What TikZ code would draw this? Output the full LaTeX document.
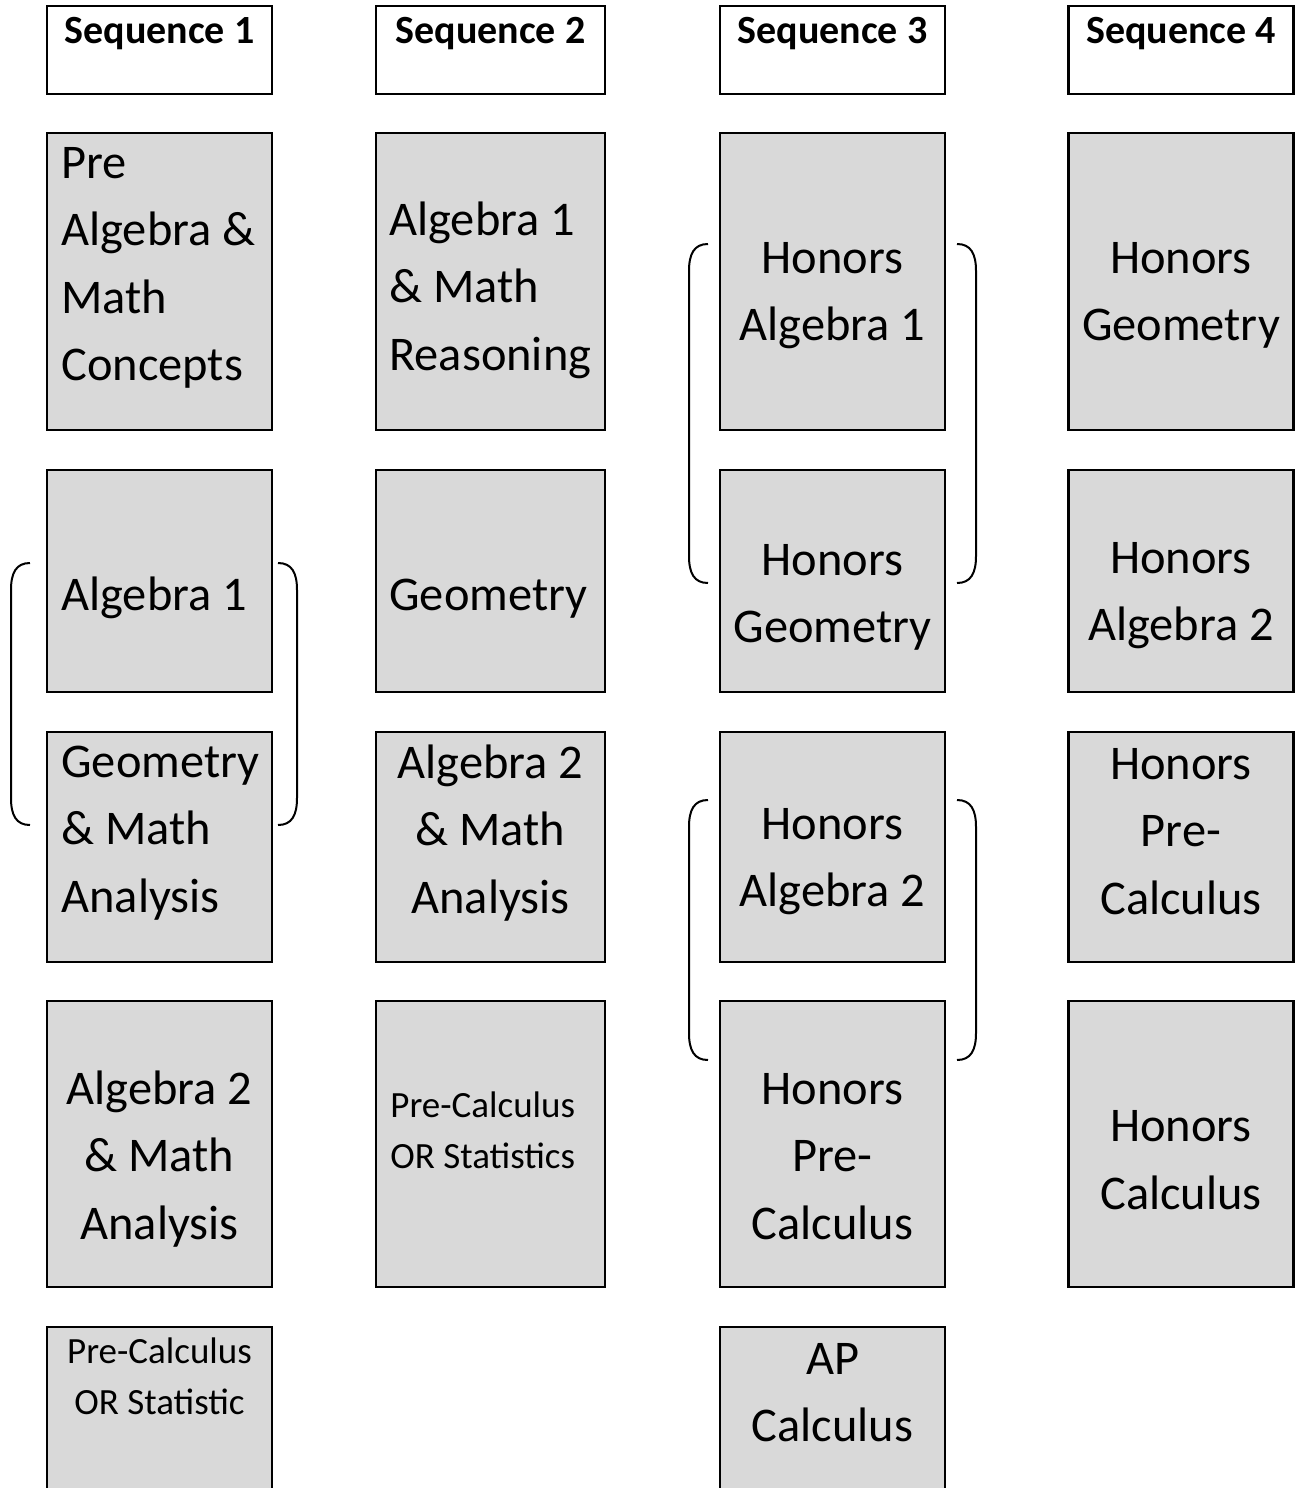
\documentclass[tikz,border=0pt]{standalone}
\usepackage{fontspec}
\setmainfont{Carlito}
\definecolor{cellgray}{HTML}{D9D9D9}
\newcommand{\coursefont}{\fontsize{24.2pt}{33.75pt}\selectfont}
\newcommand{\smallcoursefont}{\fontsize{18.5pt}{25.5pt}\selectfont}
\newcommand{\headfont}{\fontsize{20pt}{24pt}\selectfont\bfseries}

\begin{document}
\begin{tikzpicture}[x=0.5pt, y=-0.5pt,
    cell/.style={draw, line width=1.25pt, fill=cellgray, inner sep=0pt, minimum width=112.5pt},
    head/.style={cell, fill=white, minimum height=44pt},
    seqlabel/.style={font=\headfont, anchor=base, inner sep=0pt},
    % text nodes sit on the baseline of their last line
    course/.style={font=\coursefont, inner sep=0pt, anchor=base, align=center},
    courseleft/.style={course, anchor=base west, align=left},
    smallcourse/.style={course, font=\smallcoursefont},
    bracket/.style={draw, line width=1pt}]
    \useasboundingbox (0,0) rectangle (1295,1488);
    \clip (0,0) rectangle (1295,1488);

    % Header row
    \node[head] (h1) at (159.5,50) {}; \node[head, minimum width=114.5pt] (h2) at (490.5,50) {};
    \node[head] (h3) at (832.5,50) {}; \node[head] (h4) at (1181,50) {};
    \node[seqlabel] (q1) at (159.5,43) {Sequence 1}; \node[seqlabel] (q2) at (490.5,43) {Sequence 2};
    \node[seqlabel] (q3) at (832.5,43) {Sequence 3}; \node[seqlabel] (q4) at (1181,43) {Sequence 4};

    % Sequence 1
    \node[cell, minimum height=148.5pt] (b11) at (159.5,281.5) {};
    \node[cell, minimum height=111pt] (b12) at (159.5,581) {};
    \node[cell, minimum height=115pt] (b13) at (159.5,847) {};
    \node[cell, minimum height=143pt] (b14) at (159.5,1144) {};
    \node[cell, minimum height=91.5pt] (b15) at (159.5,1418.5) {};
    \node[courseleft] (t11) at (61,380.5) {Pre\\Algebra \&\\Math\\Concepts};
    \node[courseleft] (t12) at (61,610) {Algebra 1};
    \node[courseleft] (t13) at (61,912) {Geometry\\\& Math\\Analysis};
    \node[course] (t14) at (159.5,1239) {Algebra 2\\\& Math\\Analysis};
    \node[smallcourse] (t15) at (159.5,1414) {Pre-Calculus\\OR Statistic};

    % Sequence 2
    \node[cell, minimum width=114.5pt, minimum height=148.5pt] (b21) at (490.5,281.5) {};
    \node[cell, minimum width=114.5pt, minimum height=111pt] (b22) at (490.5,581) {};
    \node[cell, minimum width=114.5pt, minimum height=115pt] (b23) at (490.5,847) {};
    \node[cell, minimum width=114.5pt, minimum height=143pt] (b24) at (490.5,1144) {};
    \node[courseleft] (t21) at (389,370) {Algebra 1\\\& Math\\Reasoning};
    \node[courseleft] (t22) at (389,610) {Geometry};
    \node[course] (t23) at (490.5,913) {Algebra 2\\\& Math\\Analysis};
    \node[smallcourse, anchor=base west, align=left] (t24) at (390,1168) {Pre-Calculus\\OR Statistics};

    % Sequence 3
    \node[cell, minimum height=148.5pt] (b31) at (832.5,281.5) {};
    \node[cell, minimum height=111pt] (b32) at (832.5,581) {};
    \node[cell, minimum height=115pt] (b33) at (832.5,847) {};
    \node[cell, minimum height=143pt] (b34) at (832.5,1144) {};
    \node[cell, minimum height=91.5pt] (b35) at (832.5,1418.5) {};
    \node[course] (t31) at (832.5,340.5) {Honors\\Algebra 1};
    \node[course] (t32) at (832.5,642.5) {Honors\\Geometry};
    \node[course] (t33) at (832.5,906.5) {Honors\\Algebra 2};
    \node[course] (t34) at (832.5,1239) {Honors\\Pre-\\Calculus};
    \node[course] (t35) at (832.5,1441.5) {AP\\Calculus};

    % Sequence 4
    \node[cell, minimum height=148.5pt] (b41) at (1181,281.5) {};
    \node[cell, minimum height=111pt] (b42) at (1181,581) {};
    \node[cell, minimum height=115pt] (b43) at (1181,847) {};
    \node[cell, minimum height=143pt] (b44) at (1181,1144) {};
    \node[course] (t41) at (1181,340.5) {Honors\\Geometry};
    \node[course] (t42) at (1181,640.5) {Honors\\Algebra 2};
    \node[course] (t43) at (1181,914) {Honors\\Pre-\\Calculus};
    \node[course] (t44) at (1181,1209) {Honors\\Calculus};

    % Brackets (same-year pairs)
    \path[bracket] (30,563) .. controls (16,563) and (11,573) .. (11,590) -- (11,798) .. controls (11,815) and (16,825) .. (30,825);
    \path[bracket] (278,563) .. controls (292,563) and (297,573) .. (297,590) -- (297,798) .. controls (297,815) and (292,825) .. (278,825);
    \path[bracket] (708,244) .. controls (694,244) and (689,254) .. (689,271) -- (689,556) .. controls (689,573) and (694,583) .. (708,583);
    \path[bracket] (957,244) .. controls (971,244) and (976,254) .. (976,271) -- (976,556) .. controls (976,573) and (971,583) .. (957,583);
    \path[bracket] (708,800) .. controls (694,800) and (689,810) .. (689,827) -- (689,1033) .. controls (689,1050) and (694,1060) .. (708,1060);
    \path[bracket] (957,800) .. controls (971,800) and (976,810) .. (976,827) -- (976,1033) .. controls (976,1050) and (971,1060) .. (957,1060);
  \end{tikzpicture}
\end{document}
